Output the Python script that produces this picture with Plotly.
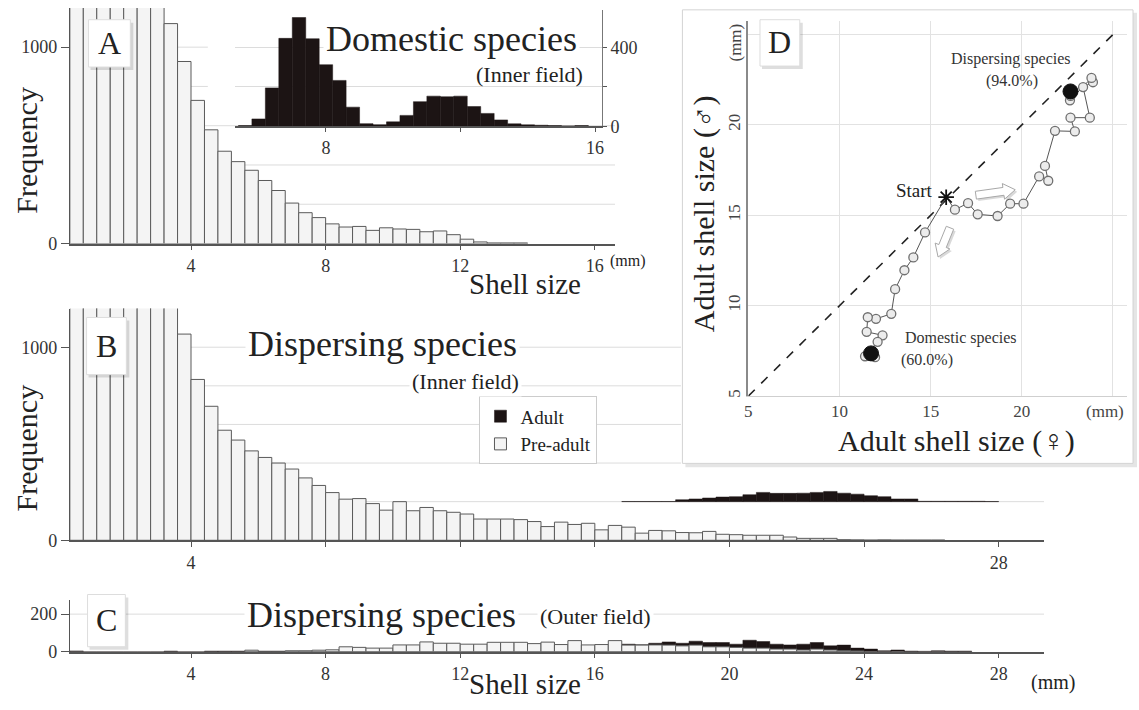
import math
import plotly.graph_objects as go

W, H = 1139, 710
FONT = "Liberation Serif, Times New Roman, serif"
BIN = 0.4

# ---------------- data ----------------
# Panel A: domestic species (inner field)
a_pre_start = 0.4
a_pre = [2600, 2900, 3100, 2900, 2500, 2000, 1500, 1120, 927, 729, 579, 470, 417, 373,
         321, 270, 206, 157, 132, 100, 84, 87, 67, 80, 74, 72, 60, 64, 45, 22, 8, 3, 3, 3]
a_adult_start = 5.4
a_adult = [3, 37, 195, 447, 553, 445, 313, 233, 97, 13, 8, 22, 55, 125, 153, 150, 153,
           100, 65, 32, 12, 7, 5, 3, 1, 3]

# Panel B: dispersing species (inner field)
b_pre_start = 0.4
b_pre = [2500, 2800, 3000, 2900, 2600, 2200, 1700, 1350,
         1068, 833, 694, 570, 519, 463, 429, 400, 369, 323, 284, 247, 213, 216, 190,
         156, 200, 153, 170, 153, 145, 136, 110, 110, 110, 107, 97, 71, 94, 82, 88, 54,
         77, 68, 37, 51, 49, 40, 39,
         46, 31, 29, 26, 26, 26, 17, 10, 10, 10, 3, 2, 1, 2, 1, 1, 1, 1]
b_adult_start = 16.8
b_adult = [1, 1, 1, 1, 10, 14, 19, 24, 26, 36, 48, 43, 43, 44, 48, 53, 44, 39, 31, 26,
           14, 14, 2, 2, 2, 2, 2, 1]
b_adult_base = 200

# Panel C: dispersing species (outer field)
c_pre_start = 5.6
c_pre = [8, 0, 0, 5, 5, 8, 10, 26, 23, 19, 19, 36, 36, 52, 45, 45, 40, 40, 50, 50,
         50, 43, 51, 38, 59, 36, 38, 59, 35, 35, 36, 35, 31, 35, 26, 26, 23, 19, 19, 14,
         14, 9, 14, 9, 5, 4]
c_adult_start = 0.4
c_adult = [4, 0, 0, 0, 0, 0, 0, 3, 0, 0, 3, 3, 3, 0, 3, 3, 0, 0, 0, 0,
           0, 0, 0, 0, 0, 0, 0, 0, 0, 0, 0, 0, 0, 0, 0, 0, 0, 0, 0, 0,
           0, 40, 37, 45, 52, 45, 56, 49, 49, 40,
           61, 54, 40, 36, 40, 49, 31, 35, 19, 14,
           5, 9, 3, 2, 5, 3, 3]

# Panel D: trajectories of adult shell size (female, male)
start_xy = (15.85, 16.0)
dom_x = [15.85, 14.69, 14.05, 13.56, 13.05, 12.84, 12.00, 11.55, 11.49, 12.36, 12.09, 11.40, 11.95]
dom_y = [16.00, 14.05, 12.67, 11.96, 10.91, 9.55, 9.27, 9.36, 8.55, 8.36, 8.00, 7.20, 7.15]
dom_end = (11.73, 7.36)
dis_x = [15.85, 16.33, 17.05, 17.58, 18.67, 19.36, 20.09, 20.95, 21.45, 21.27, 21.82, 22.91,
         22.67, 23.73, 23.36, 23.90, 23.82, 22.64, 22.67]
dis_y = [16.00, 15.31, 15.67, 15.05, 14.96, 15.64, 15.64, 17.15, 16.91, 17.73, 19.67, 19.64,
         20.40, 20.40, 22.09, 22.36, 22.60, 21.36, 21.60]
dis_end = (22.67, 21.85)
diag = [5, 25]

a_xticks = [4, 8, 12, 16]
inset_xticks = [8, 12, 16]
inset_xlabels = ["8", "", "16"]
inset_yticks = [0, 200, 400]
inset_ylabels = ["0", "", "400"]
bc_xticks = [4, 8, 12, 16, 20, 24, 28]
b_xlabels = ["4", "", "", "", "", "", "28"]
d_ticks = [5, 10, 15, 20, 25]
d_labels = ["5", "10", "15", "20", ""]
ab_grid = [200, 400, 600, 800, 1000]


def centers(start, vals):
    return [round(start + BIN / 2 + BIN * i, 3) for i in range(len(vals))]


PRE_FILL = "#f4f4f4"
PRE_LINE = "#5a5a5a"
ADULT = "#1c1414"

fig = go.Figure()

# A main (pre-adult)
fig.add_trace(go.Bar(x=centers(a_pre_start, a_pre), y=a_pre, width=BIN, xaxis="x", yaxis="y",
                     marker=dict(color=PRE_FILL, line=dict(color=PRE_LINE, width=1)),
                     showlegend=False, name="Pre-adult"))
# A inset (adult)
fig.add_trace(go.Bar(x=centers(a_adult_start, a_adult), y=a_adult, width=BIN, xaxis="x2", yaxis="y2",
                     marker=dict(color=ADULT, line=dict(color=ADULT, width=0.5)),
                     showlegend=False, name="Adult"))
# B
fig.add_trace(go.Bar(x=centers(b_adult_start, b_adult), y=b_adult, base=b_adult_base, width=BIN,
                     xaxis="x3", yaxis="y3",
                     marker=dict(color=ADULT, line=dict(color=ADULT, width=0.5)),
                     showlegend=True, name="Adult", legendrank=1))
fig.add_trace(go.Bar(x=centers(b_pre_start, b_pre), y=b_pre, width=BIN, xaxis="x3", yaxis="y3",
                     marker=dict(color=PRE_FILL, line=dict(color=PRE_LINE, width=1)),
                     showlegend=True, name="Pre-adult", legendrank=2))
# C
fig.add_trace(go.Bar(x=centers(c_adult_start, c_adult), y=c_adult, width=BIN, xaxis="x4", yaxis="y4",
                     marker=dict(color=ADULT, line=dict(color=ADULT, width=0.5)),
                     showlegend=False, name="Adult"))
fig.add_trace(go.Bar(x=centers(c_pre_start, c_pre), y=c_pre, width=BIN, xaxis="x4", yaxis="y4",
                     marker=dict(color=PRE_FILL, line=dict(color=PRE_LINE, width=1)),
                     showlegend=False, name="Pre-adult"))
# D
fig.add_trace(go.Scatter(x=diag, y=diag, mode="lines", xaxis="x5", yaxis="y5",
                         line=dict(color="#222", width=1.6, dash="dash"), showlegend=False))
for xs, ys in ((dom_x, dom_y), (dis_x, dis_y)):
    fig.add_trace(go.Scatter(x=xs, y=ys, mode="lines", xaxis="x5", yaxis="y5",
                             line=dict(color="#555", width=1), showlegend=False))
    fig.add_trace(go.Scatter(x=xs[1:], y=ys[1:], mode="markers", xaxis="x5", yaxis="y5",
                             marker=dict(symbol="circle", size=9, color="#ececec",
                                         line=dict(color="#707070", width=1.3)),
                             showlegend=False))
fig.add_trace(go.Scatter(x=[dom_end[0], dis_end[0]], y=[dom_end[1], dis_end[1]], mode="markers",
                         xaxis="x5", yaxis="y5",
                         marker=dict(size=15, color="#111", line=dict(color="#111", width=1)),
                         showlegend=False))
fig.add_trace(go.Scatter(x=[start_xy[0]], y=[start_xy[1]], mode="markers", xaxis="x5", yaxis="y5",
                         marker=dict(symbol="asterisk-open", size=13, color="#111",
                                     line=dict(color="#111", width=1.8)),
                         showlegend=False))


def px(x):
    return x / W


def py(y):
    return 1 - y / H


tickfont = dict(family=FONT, size=18, color="#333")
common_x = dict(showgrid=False, zeroline=False, showline=True, linecolor="#555", linewidth=1.5,
                ticks="outside", ticklen=5, tickcolor="#555", tickfont=tickfont)
common_y = dict(showgrid=False, zeroline=False, showline=True, linecolor="#555", linewidth=1,
                ticks="outside", ticklen=8, tickcolor="#555", tickfont=tickfont)

layout = dict(
    width=W, height=H, margin=dict(l=0, r=0, t=0, b=0),
    paper_bgcolor="white", plot_bgcolor="rgba(0,0,0,0)",
    barmode="overlay", font=dict(family=FONT, color="#222"),
    xaxis=dict(domain=[px(66.2), px(614.3)], range=[0.4, 16.6], anchor="y",
               tickvals=a_xticks, **common_x),
    yaxis=dict(domain=[py(247), py(8)], range=[0, 1200], anchor="x",
               tickvals=[0, 1000], **common_y),
    xaxis2=dict(domain=[px(232.3), px(601.0)], range=[5.3, 16.2], anchor="y2",
                tickvals=inset_xticks, ticktext=inset_xlabels,
                **{**common_x, "ticklen": 4}),
    yaxis2=dict(domain=[py(128), py(10)], range=[0, 592], anchor="x2", side="right",
                tickvals=inset_yticks, ticktext=inset_ylabels,
                **{**common_y, "showgrid": True, "gridcolor": "#dcdcdc", "ticklen": 4,
                   "linecolor": "#777"}),
    xaxis3=dict(domain=[px(66.2), px(1045.6)], range=[0.4, 29.35], anchor="y3",
                tickvals=bc_xticks, ticktext=b_xlabels, **common_x),
    yaxis3=dict(domain=[py(548), py(313)], range=[0, 1200], anchor="x3",
                tickvals=[0, 1000], **common_y),
    xaxis4=dict(domain=[px(66.2), px(1045.6)], range=[0.4, 29.35], anchor="y4",
                tickvals=bc_xticks, **common_x),
    yaxis4=dict(domain=[py(661), py(609)], range=[0, 273], anchor="x4",
                tickvals=[0, 200], **common_y),
    xaxis5=dict(domain=[px(748.3), px(1128.6)], range=[5, 25.75], anchor="y5",
                tickvals=d_ticks, ticktext=d_labels, showgrid=True, gridcolor="#e2e2e2",
                zeroline=False, showline=True, linecolor="#cfcfcf", linewidth=1, ticks="",
                tickfont=dict(family=FONT, size=17, color="#444")),
    yaxis5=dict(domain=[py(401.7), py(21.25)], range=[5, 25.75], anchor="x5",
                tickvals=d_ticks, ticktext=d_labels, tickangle=-90, showgrid=True,
                gridcolor="#e2e2e2", zeroline=False, showline=True, linecolor="#8a8a8a",
                linewidth=1.5, ticks="", tickfont=dict(family=FONT, size=17, color="#444")),
    legend=dict(x=px(478), y=py(402), xanchor="left", yanchor="top", bgcolor="white",
                bordercolor="#cccccc", borderwidth=1, font=dict(family=FONT, size=19, color="#222"),
                tracegroupgap=2, itemwidth=30),
)

shapes = []


def rect(x0, y0, x1, y1, fill, line=None, lw=0, layer="above"):
    return dict(type="rect", xref="paper", yref="paper", x0=px(x0), x1=px(x1), y0=py(y1), y1=py(y0),
                fillcolor=fill, line=dict(color=line or fill, width=lw), layer=layer)


# panel D frame (below all subplot content)
shapes.append(rect(685, 13, 1139, 474, "rgba(0,0,0,0.10)", layer="below"))
shapes.append(rect(682, 10, 1135, 470, "white", "#d3d3d3", 1, layer="below"))


def hline(xref, yref, y, x0, x1):
    return dict(type="line", xref=xref, yref=yref, x0=x0, x1=x1, y0=y, y1=y,
                line=dict(color="#dcdcdc", width=1), layer="below")


# gridlines A
for g in ab_grid:
    x1 = 4.5 if g >= 800 else 16.6
    shapes.append(hline("x", "y", g, 0.4, x1))
# gridlines B (hidden by the D frame on the right)
for g in ab_grid:
    x1 = 29.35 if g == 200 else 18.56
    shapes.append(hline("x3", "y3", g, 0.4, x1))
# gridline C
shapes.append(hline("x4", "y4", 200, 0.4, 29.35))

# panel label boxes
for (x0, y0, x1, y1) in [(85, 20, 127, 68), (83, 322, 123, 380), (84, 603, 122, 656), (760, 20, 800, 67)]:
    shapes.append(rect(x0 + 2, y0 + 3, x1 + 3, y1 + 3, "rgba(0,0,0,0.13)"))
    shapes.append(rect(x0, y0, x1, y1, "white", "#dddddd", 1))


def arrow(x0, y0, ang, L, hw=4, hh=8, hl=12, dx=0, dy=0):
    pts = [(0, -hw), (L - hl, -hw), (L - hl, -hh), (L, 0), (L - hl, hh), (L - hl, hw), (0, hw)]
    c, s = math.cos(math.radians(ang)), math.sin(math.radians(ang))
    out = []
    for (u, v) in pts:
        X = x0 + u * c - v * s + dx
        Y = y0 + u * s + v * c + dy
        out.append(f"{px(X):.5f},{py(Y):.5f}")
    return "M" + " L".join(out) + " Z"


for (ax, ay, ang, L) in [(977, 198, -8, 40), (951, 231, 112, 32)]:
    shapes.append(dict(type="path", xref="paper", yref="paper", path=arrow(ax, ay, ang, L, dx=2, dy=2),
                       fillcolor="rgba(0,0,0,0.15)", line=dict(width=0), layer="above"))
    shapes.append(dict(type="path", xref="paper", yref="paper", path=arrow(ax, ay, ang, L),
                       fillcolor="white", line=dict(color="#a8a8a8", width=1), layer="above"))

layout["shapes"] = shapes


def ann(text, x, y, size, xanchor="center", angle=0, color="#222", bg=None):
    d = dict(text=text, x=px(x), y=py(y), xref="paper", yref="paper", showarrow=False,
             font=dict(family=FONT, size=size, color=color), xanchor=xanchor, yanchor="middle",
             textangle=angle)
    if bg:
        d.update(bgcolor=bg, borderpad=2)
    return d


annotations = [
    ann("Frequency", 23, 152, 30, angle=-90),
    ann("Frequency", 23, 454, 30, angle=-90),
    ann("Domestic species", 450, 40, 36, bg="white"),
    ann("(Inner field)", 528, 76, 22),
    ann("Dispersing species", 381, 349, 36, bg="white"),
    ann("(Inner field)", 464, 387, 22, bg="white"),
    ann("Dispersing species", 380, 624, 36, bg="white"),
    ann("(Outer field)", 595, 625, 22, bg="white"),
    ann("Shell size", 524, 288, 29),
    ann("(mm)", 627, 265, 16),
    ann("Shell size", 524, 694, 29),
    ann("(mm)", 1055, 692, 20),
    ann("Adult shell size (♀)", 958, 447, 30),
    ann("Adult shell size (♂)", 704, 217, 30, angle=-90),
    ann("(mm)", 735, 43, 17, angle=-90, color="#444"),
    ann("(mm)", 1107, 417, 17, color="#444"),
    ann("Dispersing species", 1012, 60, 16, color="#333"),
    ann("(94.0%)", 1013, 82, 16, color="#333"),
    ann("Start", 915, 193, 19, color="#222"),
    ann("Domestic species", 962, 343, 16, color="#333"),
    ann("(60.0%)", 928, 365, 16, color="#333"),
    ann("A", 106, 44, 32),
    ann("B", 103, 351, 32),
    ann("C", 103, 629, 32),
    ann("D", 780, 43, 32),
]
layout["annotations"] = annotations

fig.update_layout(**layout)
fig.write_html("out.html", config={"displayModeBar": False},
               post_script="document.body.style.margin='0';document.body.style.overflow='hidden';")
